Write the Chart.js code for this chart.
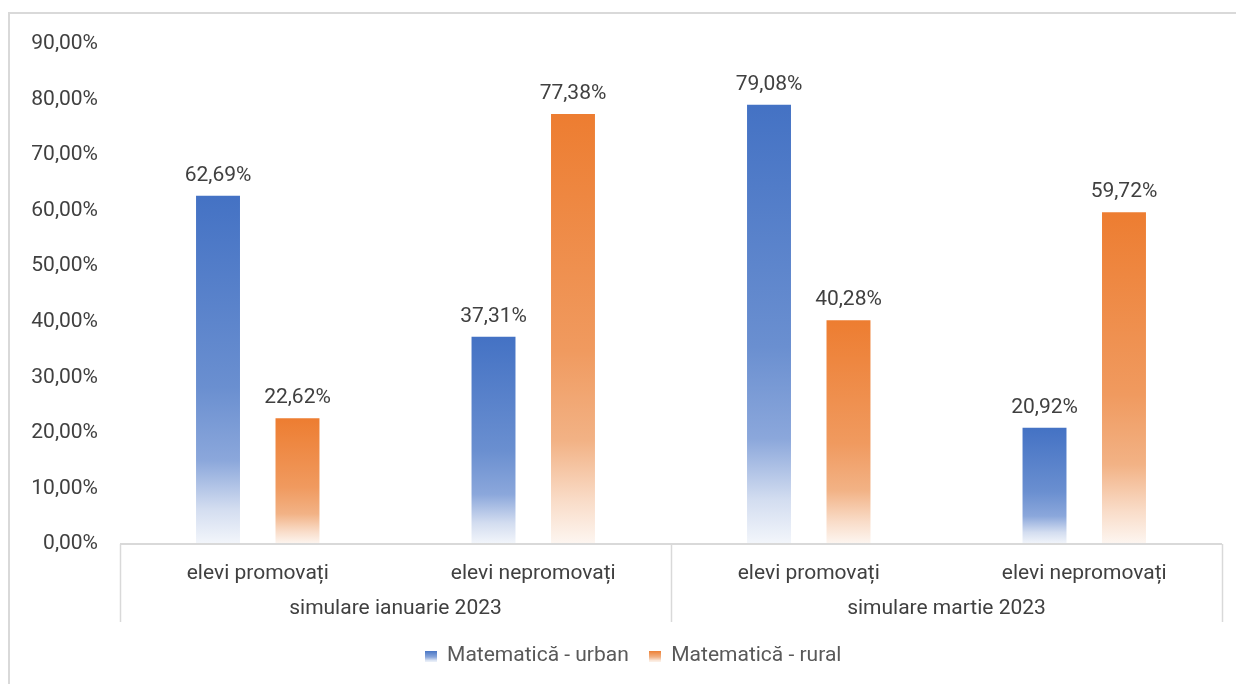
<!DOCTYPE html>
<html>
<head>
<meta charset="utf-8">
<script src="https://cdn.jsdelivr.net/npm/chart.js@4/dist/chart.umd.min.js"></script>
<style>
	html, body { margin: 0; padding: 0; background: #fff; overflow: hidden; }
	#frame { position: absolute; left: 8px; top: 12px; width: 1400px; height: 900px; border: 2px solid #d9d9d9; }
	#wrap { position: absolute; left: 0; top: 0; width: 1236px; height: 684px; }
</style>
</head>
<body>
<div id="frame"></div>
<div id="wrap"><canvas id="bar-chart" width="1236" height="684"></canvas></div>
<script>
var categories = ['elevi promovați', 'elevi nepromovați', 'elevi promovați', 'elevi nepromovați'];
var groups = ['simulare ianuarie 2023', 'simulare martie 2023'];
var seriesNames = ['Matematică - urban', 'Matematică - rural'];
var urban = [62.69, 37.31, 79.08, 20.92];
var rural = [22.62, 77.38, 40.28, 59.72];
var yMax = 90;
var yStep = 10;

var FONT = 'Roboto, "Liberation Sans", Arial, sans-serif';
var TEXT = '#404040';
var LINE = '#d9d9d9';

function pct(v) {
	return Number(v).toFixed(2).replace('.', ',') + '%';
}

// colour stops top -> bottom, like the office gradient fill
var blueStops = [[0, '#4472c4'], [0.55, '#6a8fd0'], [0.76, '#8ba7db'], [0.9, '#d3ddf0'], [1, '#f3f6fb']];
var orangeStops = [[0, '#ed7d31'], [0.55, '#f09a5f'], [0.76, '#f2b285'], [0.9, '#f9dcc8'], [1, '#fdf6f1']];

function barFill(solid, stops) {
	return function (ctx) {
		if (ctx.type !== 'data' || !ctx.parsed) return solid;
		var chart = ctx.chart;
		var ys = chart.scales.y;
		if (!ys || !chart.chartArea) return solid;
		var top = ys.getPixelForValue(ctx.parsed.y);
		var bottom = ys.getPixelForValue(0);
		if (!isFinite(top) || !isFinite(bottom) || top === bottom) return solid;
		var g = chart.ctx.createLinearGradient(0, top, 0, bottom);
		stops.forEach(function (s) { g.addColorStop(s[0], s[1]); });
		return g;
	};
}

function legendBox(stops) {
	var c = document.createElement('canvas');
	c.width = 12;
	c.height = 11;
	var x = c.getContext('2d');
	var g = x.createLinearGradient(0, 0, 0, 11);
	g.addColorStop(0, stops[0][1]);
	g.addColorStop(0.6, stops[2][1]);
	g.addColorStop(1, stops[4][1]);
	x.fillStyle = g;
	x.fillRect(0, 0, 12, 11);
	return c;
}

var valueLabels = {
	id: 'valueLabels',
	afterDatasetsDraw: function (chart) {
		var ctx = chart.ctx;
		ctx.save();
		ctx.font = '21px ' + FONT;
		ctx.fillStyle = TEXT;
		ctx.textAlign = 'center';
		ctx.textBaseline = 'alphabetic';
		chart.data.datasets.forEach(function (ds, i) {
			var meta = chart.getDatasetMeta(i);
			meta.data.forEach(function (el, j) {
				ctx.fillText(pct(ds.data[j]), el.x, el.y - 15);
			});
		});
		ctx.restore();
	}
};

// axis line + vertical separators of the two-level category axis
var separators = {
	id: 'separators',
	afterLayout: function (chart) {
		// centre the legend under the frame rather than the canvas
		if (chart.legend) chart.legend.left = 44;
	},
	afterDraw: function (chart) {
		var xs = chart.scales.x;
		var x2 = chart.scales.x2;
		var ctx = chart.ctx;
		var mid = (xs.getPixelForValue(1) + xs.getPixelForValue(2)) / 2;
		var end = x2.top + 38;
		ctx.save();
		ctx.strokeStyle = LINE;
		ctx.lineWidth = 2;
		ctx.beginPath();
		ctx.moveTo(xs.left, xs.top);
		ctx.lineTo(xs.right, xs.top);
		ctx.stroke();
		ctx.lineWidth = 1.5;
		[xs.left, mid, xs.right].forEach(function (px) {
			ctx.beginPath();
			ctx.moveTo(Math.round(px) + 0.5, xs.top);
			ctx.lineTo(Math.round(px) + 0.5, end);
			ctx.stroke();
		});
		ctx.restore();
	}
};

new Chart(document.getElementById('bar-chart'), {
	type: 'bar',
	data: {
		labels: categories,
		datasets: [
			{
				label: seriesNames[0],
				data: urban,
				xAxisID: 'x',
				backgroundColor: barFill('#4472c4', blueStops),
				pointStyle: legendBox(blueStops),
				categoryPercentage: 0.577,
				barPercentage: 0.553
			},
			{
				label: seriesNames[1],
				data: rural,
				xAxisID: 'x',
				backgroundColor: barFill('#ed7d31', orangeStops),
				pointStyle: legendBox(orangeStops),
				categoryPercentage: 0.577,
				barPercentage: 0.553
			}
		]
	},
	options: {
		responsive: false,
		animation: false,
		layout: { padding: { top: 44, right: 14, left: 0, bottom: 7.5 } },
		scales: {
			y: {
				min: 0,
				max: yMax,
				afterFit: function (s) { s.width = 120; },
				ticks: {
					stepSize: yStep,
					padding: 22,
					color: TEXT,
					font: { family: FONT, size: 21 },
					callback: function (v) { return pct(v); }
				},
				grid: { display: false, drawTicks: false },
				border: { display: false }
			},
			x: {
				position: 'bottom',
				afterFit: function (s) { s.height = 40; },
				ticks: {
					padding: 17,
					color: TEXT,
					font: { family: FONT, size: 21 },
					maxRotation: 0,
					autoSkip: false
				},
				grid: { display: false, drawTicks: false },
				border: { display: false }
			},
			x2: {
				type: 'category',
				position: 'bottom',
				labels: groups,
				afterFit: function (s) { s.height = 41.5; },
				ticks: {
					padding: 12.5,
					color: TEXT,
					font: { family: FONT, size: 21 },
					maxRotation: 0,
					autoSkip: false
				},
				grid: { display: false, drawTicks: false },
				border: { display: false }
			}
		},
		plugins: {
			legend: {
				position: 'bottom',
				labels: {
					usePointStyle: true,
					boxWidth: 12,
					boxHeight: 12,
					padding: 20,
					color: '#595959',
					font: { family: FONT, size: 21 }
				}
			},
			tooltip: { enabled: false }
		}
	},
	plugins: [valueLabels, separators]
});
</script>
</body>
</html>
